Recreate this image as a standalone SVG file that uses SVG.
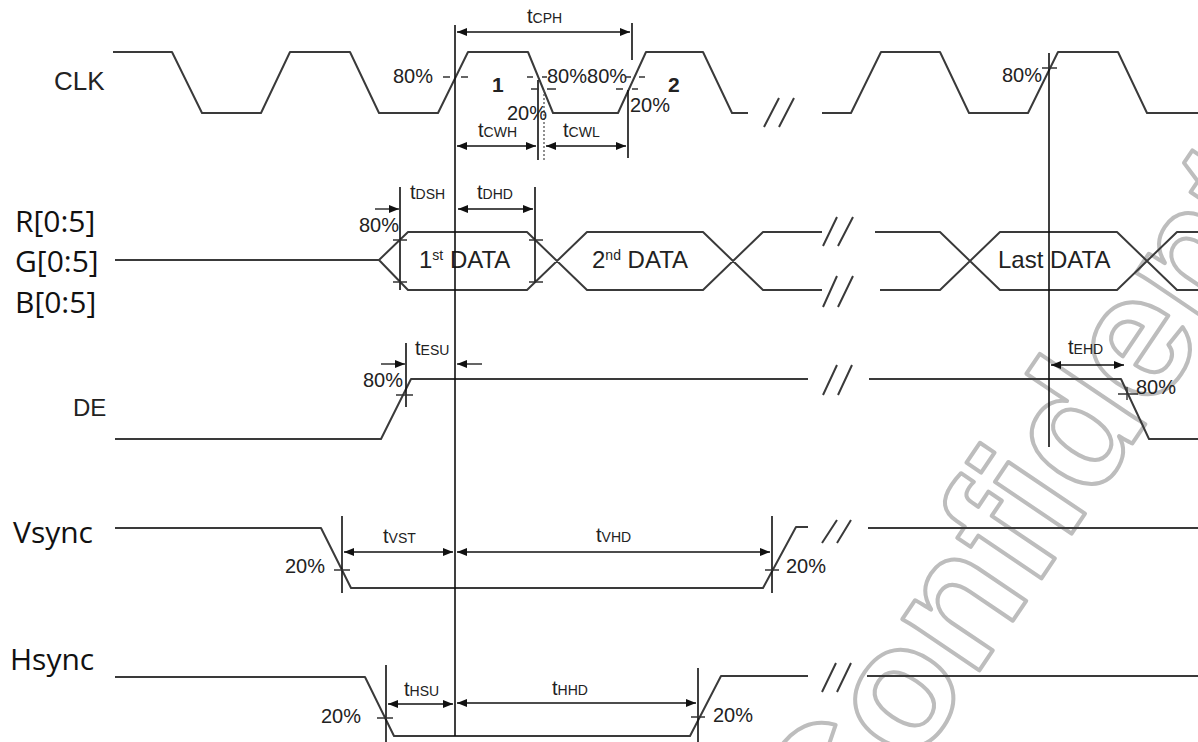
<svg xmlns="http://www.w3.org/2000/svg" width="1198" height="742" viewBox="0 0 1198 742">
<style>
.sig{stroke:#3a3a3a;stroke-width:2;fill:none;stroke-linejoin:round}
.ref{stroke:#111;stroke-width:1.6;fill:none}
.dot{stroke:#555;stroke-width:1.3;stroke-dasharray:2 2;fill:none}
.dim{stroke:#111;stroke-width:1.3;fill:none;marker-start:url(#ah);marker-end:url(#ah)}
.one{stroke:#111;stroke-width:1.3;fill:none;marker-end:url(#ah)}
.tick{stroke:#333;stroke-width:1.4;fill:none}
.t{font-family:"Liberation Sans",Arial,sans-serif;fill:#222}
.p{font-size:20px}
.tm{font-size:20px}
.sub{font-size:14px}
.lbl{font-family:"Open Sans","DejaVu Sans",sans-serif;font-size:30px;fill:#111}
.wm{font-family:"Liberation Sans",Arial,sans-serif;font-weight:bold;font-size:175px;fill:none;stroke:#bdbdbd;stroke-width:4;stroke-linejoin:round}
</style>
<defs>
<marker id="ah" markerUnits="userSpaceOnUse" markerWidth="10" markerHeight="8" refX="10" refY="4" orient="auto-start-reverse"><path d="M0,0 L10,4 L0,8 z" fill="#111"/></marker>
</defs>
<rect width="1198" height="742" fill="#fff"/>
<g id="watermark">
<text class="wm" transform="translate(842,874) rotate(-56)">Confidential</text>
</g>

<g id="labels">
<text class="t" x="54" y="90" font-size="26">CLK</text>
<text class="lbl" x="15" y="232">R[0:5]</text>
<text class="lbl" x="15" y="272">G[0:5]</text>
<text class="lbl" x="15" y="313">B[0:5]</text>
<text class="t" x="73" y="416" font-size="24">DE</text>
<text class="lbl" x="13" y="543">Vsync</text>
<text class="lbl" x="10" y="670">Hsync</text>
</g>

<g id="clk">
<path class="sig" d="M113,52 L172,52 L202,113 L261,113 L290,52 L350,52 L379,113 L438,113 L468,52 L528,52 L553,113 L618,113 L646,52 L703,52 L732,113 L748,113"/>
<path class="sig" d="M764,127 L779,98 M779,127 L794,98"/>
<path class="sig" d="M822,113 L851,113 L881,52 L940,52 L969,113 L1028,113 L1058,52 L1118,52 L1147,113 L1198,113"/>
<text class="t" x="492" y="92" font-size="21" font-weight="bold">1</text>
<text class="t" x="668" y="92" font-size="21" font-weight="bold">2</text>
</g>

<g id="data">
<path class="sig" d="M115,260 L379,260 M379,260 L408,232 L527,232 L587,290 L703,290 L763,232 L822,232 M379,260 L408,290 L527,290 L587,232 L703,232 L763,290 L822,290"/>
<path class="sig" d="M823,246 L837,217 M838,246 L853,217 M823,307 L837,276 M838,307 L853,276"/>
<path class="sig" d="M875,232 L940,232 L1000,290 L1117,290 L1177,232 L1198,232 M880,290 L940,290 L1000,232 L1117,232 L1177,290 L1198,290"/>
<text class="t" x="419" y="268" font-size="24">1<tspan font-size="14" dy="-8">st</tspan><tspan dy="8"> DATA</tspan></text>
<text class="t" x="592" y="268" font-size="24">2<tspan font-size="14" dy="-8">nd</tspan><tspan dy="8"> DATA</tspan></text>
<text class="t" x="998" y="268" font-size="24">Last DATA</text>
</g>

<g id="de">
<path class="sig" d="M115,439 L381,439 L411,379 L808,379"/>
<path class="sig" d="M823,395 L837,365 M838,395 L852,365"/>
<path class="sig" d="M869,379 L1121,379 L1149,439 L1198,439"/>
</g>

<g id="vsync">
<path class="sig" d="M115,528 L321,528 L351,588 L763,588 L796,527 L808,527"/>
<path class="sig" d="M822,543 L837,520 M837,543 L851,520"/>
<path class="sig" d="M868,528 L1198,528"/>
</g>

<g id="hsync">
<path class="sig" d="M115,677 L365,677 L394,736 L690,736 L721,676 L808,676"/>
<path class="sig" d="M822,692 L836,663 M837,692 L851,663"/>
<path class="sig" d="M867,676 L1198,676"/>
</g>

<g id="connectors">
<path class="ref" d="M455,25 L455,736 M632,23 L632,60 M628,90 L628,158 M538,80 L538,160 M400,187 L400,290 M535,187 L535,283 M406,343 L406,407 M1049,53 L1049,447 M342,516 L342,593 M772,516 L772,593 M386,665 L386,742 M698,668 L698,742"/>
<path class="dot" d="M544,90 L544,160"/>
<path class="dim" d="M457,32 L630,32"/>
<path class="dim" d="M457,146 L536,146"/>
<path class="dim" d="M546,146 L626,146"/>
<path class="dim" d="M458,209 L533,209"/>
<path class="dim" d="M1051,365 L1124,365"/>
<path class="dim" d="M344,552 L453,552"/>
<path class="dim" d="M457,552 L770,552"/>
<path class="dim" d="M388,704 L453,704"/>
<path class="dim" d="M457,703 L696,703"/>
<path class="one" d="M375,209 L399,209"/>
<path class="one" d="M381,364 L405,364"/>
<path class="one" d="M482,364 L457,364"/>
<path class="tick" d="M443,77 L450,77 M461,77 L468,77 M527,77 L533,77 M542,77 L547,77 M626,77 L631,77 M639,77 L645,77 M531,89 L539,89 M547,89 L556,89 M616,89 L623,89 M632,89 L638,89 M1042,68 L1057,68 M393,240 L407,240 M393,282 L407,282 M529,240 L543,240 M529,282 L543,282 M396,395 L413,395 M1118,394 L1138,394 M1127,387 L1127,400 M334,570 L350,570 M765,570 L779,570 M377,718 L393,718 M691,717 L705,717"/>
<text class="t tm" x="527" y="23">t<tspan class="sub">CPH</tspan></text>
<text class="t tm" x="478" y="137">t<tspan class="sub">CWH</tspan></text>
<text class="t tm" x="563" y="137">t<tspan class="sub">CWL</tspan></text>
<text class="t tm" x="410" y="199">t<tspan class="sub">DSH</tspan></text>
<text class="t tm" x="477" y="199">t<tspan class="sub">DHD</tspan></text>
<text class="t tm" x="415" y="355">t<tspan class="sub">ESU</tspan></text>
<text class="t tm" x="1068" y="354">t<tspan class="sub">EHD</tspan></text>
<text class="t tm" x="383" y="543">t<tspan class="sub">VST</tspan></text>
<text class="t tm" x="596" y="542">t<tspan class="sub">VHD</tspan></text>
<text class="t tm" x="404" y="696">t<tspan class="sub">HSU</tspan></text>
<text class="t tm" x="552" y="695">t<tspan class="sub">HHD</tspan></text>
<text class="t p" x="393" y="83">80%</text>
<text class="t p" x="547" y="83">80%80%</text>
<text class="t p" x="507" y="120">20%</text>
<text class="t p" x="630" y="112">20%</text>
<text class="t p" x="1002" y="82">80%</text>
<text class="t p" x="359" y="232">80%</text>
<text class="t p" x="363" y="387">80%</text>
<text class="t p" x="1136" y="394">80%</text>
<text class="t p" x="285" y="573">20%</text>
<text class="t p" x="786" y="573">20%</text>
<text class="t p" x="321" y="723">20%</text>
<text class="t p" x="713" y="722">20%</text>
</g>
</svg>
